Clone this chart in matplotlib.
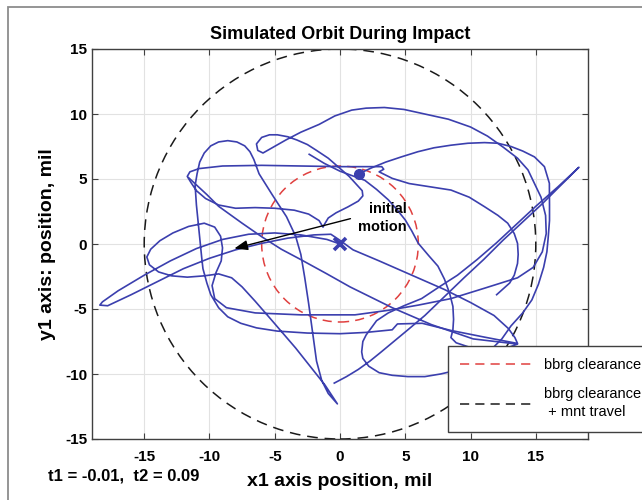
import matplotlib.pyplot as plt
from matplotlib.patches import Circle, Rectangle
from matplotlib.lines import Line2D

plt.rcParams['font.family'] = ['Liberation Sans', 'DejaVu Sans']
plt.rcParams['axes.unicode_minus'] = False

title = 'Simulated Orbit During Impact'
xlabel = 'x1 axis position, mil'
ylabel = 'y1 axis: position, mil'
time_note = 't1 = -0.01,  t2 = 0.09'
legend_labels = ['bbrg clearance', 'bbrg clearance\n + mnt travel']
ticks = [-15, -10, -5, 0, 5, 10, 15]

clearance_r = 6
travel_r = 15
start_pt = (0.0, 0.0)
end_pt = (1.45, 5.4)
arrow_from = (0.8, 1.95)
arrow_to = (-8.1, -0.35)

# orbit, in mil (three strokes)
orbit_a = [(0.0, 0.0), (-1.0, 0.35), (-3.0, 0.7), (-5.0, 0.85), (-7.0, 0.75), (-9.0, 0.35),
           (-11.0, -0.35), (-13.0, -1.3), (-15.0, -2.4), (-17.0, -3.6), (-18.2, -4.45), (-18.4, -4.7),
           (-17.8, -4.75), (-16.0, -3.9), (-14.0, -2.9), (-12.0, -1.9), (-10.0, -1.1), (-8.0, -0.45),
           (-6.0, 0.05), (-4.0, 0.45), (-2.0, 0.7), (-0.7, 0.75), (-0.1, 0.35),
           (1.0, -0.45), (3.0, -1.3), (5.5, -2.4), (8.0, -3.5), (10.0, -4.5), (11.8, -5.5),
           (12.9, -6.5), (13.4, -7.2), (13.6, -7.65),
           (11.0, -7.15), (8.5, -6.65), (6.3, -6.1), (4.4, -6.15), (4.0, -6.6), (2.0, -6.8),
           (0.0, -6.9), (-2.5, -6.85), (-4.8, -6.7), (-6.4, -6.45), (-7.6, -6.1), (-8.6, -5.6),
           (-9.3, -4.9), (-9.9, -3.9), (-10.2, -3.0), (-10.5, -1.9), (-10.6, -1.0), (-10.8, 1.0),
           (-11.0, 3.0), (-11.1, 4.5),
           (-10.95, 5.4), (-10.75, 6.3), (-10.4, 7.0), (-9.9, 7.55), (-9.3, 7.85), (-8.6, 7.95),
           (-7.9, 7.85), (-7.3, 7.55), (-6.9, 7.1), (-6.6, 6.5), (-6.2, 5.4), (-5.2, 3.8),
           (-4.1, 2.1), (-3.4, 0.6), (-3.0, -0.8), (-2.7, -2.6), (-2.4, -4.6), (-2.1, -6.8),
           (-1.8, -9.0), (-1.4, -10.5), (-0.9, -11.5), (-0.2, -12.3),
           (-1.15, -10.85), (-2.3, -9.4), (-3.4, -8.0), (-5.2, -5.9), (-6.5, -4.4), (-7.5, -3.3),
           (-8.3, -2.6), (-9.3, -2.3), (-10.4, -2.45), (-11.7, -2.55), (-12.9, -2.45),
           (-13.9, -2.15), (-14.6, -1.6), (-14.8, -1.0), (-14.5, -0.4), (-13.8, 0.25),
           (-12.8, 0.85), (-11.6, 1.35), (-10.4, 1.6), (-9.6, 1.3), (-9.15, 0.6), (-9.0, -0.3),
           (-9.1, -1.3), (-9.5, -2.2),
           (-9.8, -3.2), (-9.6, -4.2), (-8.7, -4.9), (-6.5, -5.3), (-3.0, -5.45), (1.15, -5.45),
           (3.7, -5.1), (6.0, -4.7), (8.5, -4.2), (11.07, -3.4), (13.6, -2.6), (14.8, -1.8),
           (15.5, -0.6), (15.8, 0.8), (15.75, 2.2), (15.4, 3.6), (14.4, 5.7), (13.6, 6.6),
           (12.5, 7.45), (11.3, 8.3), (10.0, 9.0), (8.3, 9.6), (6.5, 10.0), (4.9, 10.35),
           (3.4, 10.5), (2.0, 10.45), (0.9, 10.3), (-0.4, 9.85), (-1.6, 9.2), (-3.0, 8.6),
           (-4.15, 8.0), (-5.2, 7.4), (-5.9, 7.0), (-6.3, 7.2), (-6.4, 7.7), (-6.0, 8.2),
           (-5.4, 8.4), (-4.8, 8.4), (-4.0, 8.25), (-3.3, 8.0), (-2.5, 7.65), (-1.8, 7.2),
           (-0.9, 6.6), (-0.1, 5.9), (0.7, 5.2), (1.2, 4.65), (1.7, 4.1), (1.75, 3.7), (1.4, 3.3),
           (0.6, 2.85), (-0.3, 2.4), (-0.9, 2.0), (-1.2, 1.5), (-1.3, 1.3), (-1.6, 1.8),
           (-2.4, 2.3), (-3.5, 2.6), (-5.0, 2.75), (-6.5, 2.8), (-8.0, 2.75), (-9.3, 3.0),
           (-10.3, 3.5), (-11.0, 4.1), (-11.4, 4.7), (-11.7, 5.2),
           (-11.5, 5.55), (-10.8, 5.8), (-9.0, 6.0), (-6.0, 6.05), (-3.0, 6.0), (0.0, 5.95),
           (2.4, 5.95), (3.2, 5.95), (3.35, 5.75), (3.0, 5.55), (4.0, 5.05), (5.3, 4.65),
           (6.9, 4.4), (8.5, 4.15), (9.9, 3.6), (11.07, 2.87), (12.1, 2.2), (12.85, 1.6),
           (13.35, 0.8), (13.6, 0.05), (13.65, -0.8), (13.6, -1.5), (13.35, -2.4), (13.0, -3.0),
           (12.0, -3.9)]

orbit_b = [(-11.6, 5.1), (-10.2, 3.8), (-9.3, 2.9), (-7.5, 1.6), (-6.0, 0.56), (-4.5, -0.4),
           (-3.0, -1.2), (-1.0, -2.3), (0.77, -3.3), (4.0, -4.9), (7.0, -6.2), (10.2, -7.3),
           (13.6, -7.7), (12.5, -8.1), (11.6, -8.6), (10.3, -9.25), (9.0, -9.7), (7.7, -10.0),
           (6.5, -10.2), (5.2, -10.2), (4.0, -10.1), (3.0, -9.9), (2.2, -9.4), (1.75, -8.8),
           (1.66, -8.3), (1.75, -7.5), (2.0, -7.0), (2.8, -5.9), (3.7, -5.3), (4.9, -4.75),
           (6.25, -4.2), (7.6, -3.3), (9.0, -2.4), (10.5, -1.2), (12.0, 0.1), (13.5, 1.5),
           (15.0, 2.9), (16.7, 4.4), (18.3, 5.9), (16.9, 4.5), (15.5, 3.1), (14.0, 1.7),
           (12.5, 0.3), (11.0, -1.2), (9.5, -2.6), (8.0, -4.05), (6.5, -5.5), (5.2, -6.6),
           (4.0, -7.6), (3.1, -8.35), (2.3, -9.0), (1.4, -9.65), (0.5, -10.2), (-0.44, -10.7)]

orbit_c = [(-2.36, 6.9), (-1.2, 6.2), (0.0, 5.6), (1.9, 4.9), (2.8, 4.2), (3.7, 3.4),
           (4.4, 2.6), (5.0, 1.85), (5.5, 1.0), (6.0, 0.05), (6.8, -0.9), (7.5, -1.7), (8.0, -2.7),
           (8.4, -3.8), (8.65, -4.8), (8.7, -5.8), (8.65, -6.6), (8.5, -7.2), (8.9, -7.6),
           (9.8, -7.9), (10.8, -8.1), (11.6, -8.1), (12.4, -7.3), (13.1, -6.3), (14.0, -5.3),
           (14.7, -4.3), (15.2, -3.1), (15.6, -1.8), (15.85, -0.6), (15.95, 0.5), (16.05, 1.8),
           (16.05, 3.0), (16.04, 4.67), (15.66, 5.95), (14.9, 6.7), (14.0, 7.15), (13.1, 7.5),
           (12.1, 7.75), (11.07, 7.8), (9.8, 7.75), (8.5, 7.6), (7.2, 7.4), (5.97, 7.1),
           (4.7, 6.7), (3.5, 6.3), (2.4, 5.85), (1.45, 5.4)]

blue = '#3b3fae'
red = '#e0403f'
black = '#1a1a1a'

fig = plt.figure(figsize=(6.42, 5.0), dpi=100)
ax = fig.add_axes([0.1433, 0.122, 0.7726, 0.78])

ax.add_patch(Circle((0, 0), travel_r, fill=False, ec=black, lw=1.1, ls=(0, (7, 4.5))))
ax.add_patch(Circle((0, 0), clearance_r, fill=False, ec=red, lw=1.1, ls=(0, (6, 4))))

for stroke in (orbit_a, orbit_b, orbit_c):
    xs = [p[0] for p in stroke]
    ys = [p[1] for p in stroke]
    ax.plot(xs, ys, color=blue, lw=1.2, solid_joinstyle='round')

ax.plot(start_pt[0], start_pt[1], marker='x', ms=9, mew=2.6, color=blue)
ax.plot(end_pt[0], end_pt[1], marker='o', ms=7, color=blue)

ax.annotate('', xy=arrow_to, xytext=arrow_from,
            arrowprops=dict(arrowstyle='-|>,head_length=0.8,head_width=0.3',
                            color='black', lw=1.0, shrinkA=0, shrinkB=0))
ax.text(5.1, 1.97, 'initial\nmotion', ha='right', va='center', multialignment='right',
        fontsize=10.5, fontweight='bold', linespacing=1.35)

ax.set_xlim(-19, 19)
ax.set_ylim(-15, 15)
ax.set_xticks(ticks)
ax.set_yticks(ticks)
ax.grid(True, color='#e2e2e2', lw=0.8)
ax.set_axisbelow(True)
ax.tick_params(direction='in', length=4, top=True, right=True, labelsize=11, color='#404040')
ax.tick_params(axis='x', pad=8)
ax.tick_params(axis='y', pad=3.5)
for lab in ax.get_xticklabels() + ax.get_yticklabels():
    lab.set_fontweight('bold')
for sp in ax.spines.values():
    sp.set_color('#404040')
    sp.set_linewidth(1.0)

ax.set_title(title, fontsize=13, fontweight='bold', pad=7)
ax.set_xlabel(xlabel, fontsize=14, fontweight='bold', va='center')
ax.xaxis.set_label_coords(0.5, -0.110)
ax.set_ylabel(ylabel, fontsize=14, fontweight='bold', va='center')
ax.yaxis.set_label_coords(-0.0907, 0.5)

fig.text(48 / 642, 1 - 476 / 500, time_note, fontsize=12, fontweight='bold', ha='left', va='center')

handles = [Line2D([], [], color=red, lw=1.1, ls=(0, (6, 4))),
           Line2D([], [], color=black, lw=1.1, ls=(0, (6, 4)))]
leg = fig.legend(handles, legend_labels, loc='upper left', bbox_to_anchor=(448 / 642, 1 - 346 / 500),
                 fontsize=10.5, fancybox=False, framealpha=1, handlelength=5.2, handletextpad=0.5,
                 borderpad=0.85, labelspacing=1.0, borderaxespad=0)
leg.get_texts()[1].set_linespacing(1.4)
leg.get_frame().set_edgecolor('#404040')
leg.get_frame().set_linewidth(1.0)

fig.add_artist(Rectangle((8 / 642, -0.05), 1.0, 1 - 7 / 500 + 0.05, transform=fig.transFigure,
                         fill=False, ec='#8c8c8c', lw=1.3))

fig.savefig('out.png', dpi=100)
